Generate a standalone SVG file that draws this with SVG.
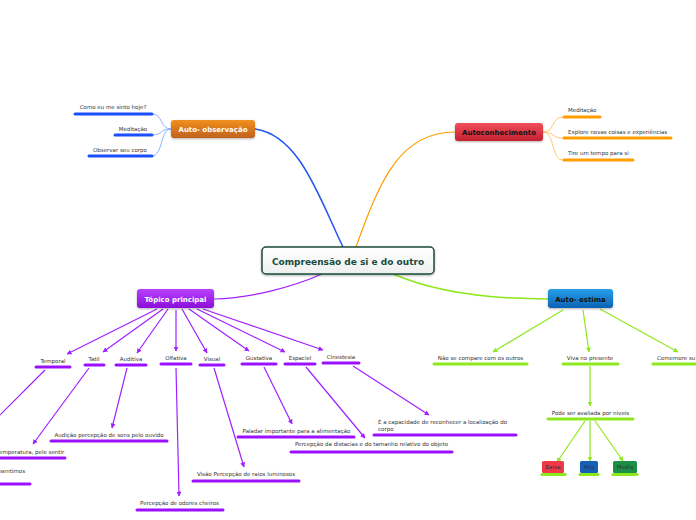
<svg xmlns="http://www.w3.org/2000/svg" width="696" height="520" viewBox="0 0 696 520">
<style>
.t{font-family:"DejaVu Sans",Verdana,sans-serif;font-size:5.5px;fill:#333}
.c{text-anchor:middle}
.h{font-family:"DejaVu Sans",Verdana,sans-serif;font-size:7px;font-weight:bold;text-anchor:middle}
.ub{stroke:#1a4fff;stroke-width:3;stroke-linecap:round}
.uo{stroke:#ff9d00;stroke-width:3;stroke-linecap:round}
.up{stroke:#9b10ff;stroke-width:3;stroke-linecap:round}
.ug{stroke:#8ee81e;stroke-width:3;stroke-linecap:round}
.ap{stroke:#a020ff;stroke-width:1.2;fill:none;marker-end:url(#mp)}
.ag{stroke:#8ee81e;stroke-width:1.2;fill:none;marker-end:url(#mg)}
.lb{stroke:#8fb0ff;stroke-width:1;fill:none}
.lo{stroke:#ffc870;stroke-width:1;fill:none}
</style>
<defs>
<marker id="mp" viewBox="0 0 10 10" refX="9" refY="5" markerWidth="5" markerHeight="5" markerUnits="userSpaceOnUse" orient="auto"><path d="M0,0 L10,5 L0,10 z" fill="#a020ff"/></marker>
<marker id="mg" viewBox="0 0 10 10" refX="9" refY="5" markerWidth="5" markerHeight="5" markerUnits="userSpaceOnUse" orient="auto"><path d="M0,0 L10,5 L0,10 z" fill="#8ee81e"/></marker>
<linearGradient id="gc" x1="0" y1="0" x2="0" y2="1"><stop offset="0" stop-color="#ffffff"/><stop offset="1" stop-color="#eef0ef"/></linearGradient>
<linearGradient id="go" x1="0" y1="0" x2="0" y2="1"><stop offset="0" stop-color="#f09020"/><stop offset="1" stop-color="#c0621a"/></linearGradient>
<linearGradient id="gr" x1="0" y1="0" x2="0" y2="1"><stop offset="0" stop-color="#f0505a"/><stop offset="1" stop-color="#c42030"/></linearGradient>
<linearGradient id="gp" x1="0" y1="0" x2="0" y2="1"><stop offset="0" stop-color="#b840ff"/><stop offset="1" stop-color="#8a10d8"/></linearGradient>
<linearGradient id="gb" x1="0" y1="0" x2="0" y2="1"><stop offset="0" stop-color="#2aa0ea"/><stop offset="1" stop-color="#0a62b4"/></linearGradient>
<filter id="sh" x="-20%" y="-30%" width="140%" height="170%"><feDropShadow dx="0" dy="1" stdDeviation="0.8" flood-color="#000" flood-opacity="0.3"/></filter>
</defs>
<rect width="696" height="520" fill="#ffffff"/>

<g id="connectors">
<path d="M255,129 C300,135 320,200 343,247" stroke="#2255ee" stroke-width="1.5" fill="none"/>
<path d="M356,247 C380,180 400,132 455,132" stroke="#ff9d00" stroke-width="1.2" fill="none"/>
<path d="M214,299 C250,298 290,288 322,274" stroke="#a020ff" stroke-width="1.2" fill="none"/>
<path d="M393,274 C430,290 480,299 548,299" stroke="#8ee81e" stroke-width="1.5" fill="none"/>
<path class="lb" d="M171,129 C160,129 163,114 152,114"/>
<path class="lb" d="M171,129 C160,129 163,135 152,135"/>
<path class="lb" d="M171,129 C160,129 163,156 152,156"/>
<path class="lo" d="M543,132 C555,132 551,117 563,117"/>
<path class="lo" d="M543,132 C555,132 551,138 563,138"/>
<path class="lo" d="M543,132 C555,132 551,160 563,160"/>
<line class="ap" x1="157" y1="309" x2="67" y2="354"/>
<line class="ap" x1="163" y1="309" x2="103" y2="352"/>
<line class="ap" x1="168" y1="309" x2="137" y2="353"/>
<line class="ap" x1="176" y1="310" x2="176" y2="351"/>
<line class="ap" x1="182" y1="309" x2="207" y2="353"/>
<line class="ap" x1="189" y1="309" x2="249" y2="351"/>
<line class="ap" x1="197" y1="309" x2="285" y2="352"/>
<line class="ap" x1="203" y1="309" x2="323" y2="350"/>
<line class="ap" x1="45" y1="370" x2="-20" y2="435"/>
<line class="ap" x1="89" y1="368" x2="33" y2="444"/>
<line class="ap" x1="127" y1="368" x2="112" y2="428"/>
<line class="ap" x1="176" y1="368" x2="179" y2="496"/>
<line class="ap" x1="214" y1="368" x2="244" y2="467"/>
<line class="ap" x1="264" y1="367" x2="292" y2="424"/>
<line class="ap" x1="306" y1="367" x2="365" y2="438"/>
<line class="ap" x1="353" y1="366" x2="429" y2="415"/>
<line class="ag" x1="563" y1="310" x2="493" y2="352"/>
<line class="ag" x1="583" y1="310" x2="589" y2="352"/>
<line class="ag" x1="600" y1="309" x2="678" y2="352"/>
<line class="ag" x1="590" y1="366" x2="590" y2="406"/>
<line class="ag" x1="585" y1="421" x2="557" y2="462"/>
<line class="ag" x1="590" y1="421" x2="590" y2="461"/>
<line class="ag" x1="595" y1="421" x2="623" y2="461"/>
</g>

<g id="central">
<rect x="262" y="247" width="172" height="27" rx="4" fill="url(#gc)" stroke="#1d4b3b" stroke-width="1.5" filter="url(#sh)"/>
<text x="348" y="265" font-family="'DejaVu Sans',Verdana,sans-serif" font-size="9" font-weight="bold" fill="#1a4a3a" text-anchor="middle">Compreensão de si e do outro</text>
</g>

<g id="auto-observacao">
<rect x="171" y="120" width="84" height="18" rx="3" fill="url(#go)" filter="url(#sh)"/>
<text class="h" x="213" y="131.5" fill="#ffffff">Auto- observação</text>
</g>
<g id="ao-como">
<text class="t c" x="113" y="109">Como eu me sinto hoje?</text>
<line class="ub" x1="75" y1="114" x2="152" y2="114"/>
</g>
<g id="ao-meditacao">
<text class="t c" x="133" y="131">Meditação</text>
<line class="ub" x1="115" y1="135" x2="152" y2="135"/>
</g>
<g id="ao-observar">
<text class="t c" x="120" y="151.5">Observar seu corpo</text>
<line class="ub" x1="89" y1="156" x2="152" y2="156"/>
</g>

<g id="autoconhecimento">
<rect x="455" y="123" width="88" height="18" rx="3" fill="url(#gr)" filter="url(#sh)"/>
<text class="h" x="499" y="134.5" fill="#111111">Autoconhecimento</text>
</g>
<g id="ac-meditacao">
<text class="t" x="568" y="112">Meditação</text>
<line class="uo" x1="564" y1="117" x2="600" y2="117"/>
</g>
<g id="ac-explore">
<text class="t" x="568" y="134">Explore novas coisas e experiências</text>
<line class="uo" x1="564" y1="138" x2="671" y2="138"/>
</g>
<g id="ac-tire">
<text class="t" x="568" y="155">Tire um tempo para si</text>
<line class="uo" x1="564" y1="160" x2="633" y2="160"/>
</g>

<g id="topico">
<rect x="137" y="289" width="77" height="19" rx="3" fill="url(#gp)" filter="url(#sh)"/>
<text class="h" x="175.5" y="301.5" fill="#ffffff">Tópico principal</text>
</g>
<g id="temporal"><text class="t c" x="53" y="363">Temporal</text><line class="up" x1="36" y1="367" x2="70" y2="367"/></g>
<g id="tatil"><text class="t c" x="94" y="361">Tatil</text><line class="up" x1="85" y1="365" x2="104" y2="365"/></g>
<g id="auditiva"><text class="t c" x="131" y="361">Auditiva</text><line class="up" x1="116" y1="365" x2="146" y2="365"/></g>
<g id="olfativa"><text class="t c" x="176" y="360">Olfativa</text><line class="up" x1="161" y1="364" x2="191" y2="364"/></g>
<g id="visual"><text class="t c" x="212" y="361">Visual</text><line class="up" x1="200" y1="365" x2="224" y2="365"/></g>
<g id="gustativa"><text class="t c" x="259" y="360">Gustativa</text><line class="up" x1="242" y1="364" x2="276" y2="364"/></g>
<g id="espaciel"><text class="t c" x="300" y="360">Espaciel</text><line class="up" x1="285" y1="364" x2="315" y2="364"/></g>
<g id="cinestesia"><text class="t c" x="341" y="359">Cinestesia</text><line class="up" x1="323" y1="363" x2="359" y2="363"/></g>

<g id="audicao"><text class="t c" x="109" y="437">Audição percepção de sons pelo ouvido</text><line class="up" x1="51" y1="441" x2="167" y2="441"/></g>
<g id="temperatura"><text class="t" x="-1" y="454">emperatura, pele sentir</text><line class="up" x1="-2" y1="458" x2="65" y2="458"/></g>
<g id="sentimos"><text class="t" x="0" y="473">sentimos</text><line class="up" x1="-2" y1="484" x2="30" y2="484"/></g>
<g id="odores"><text class="t c" x="179.5" y="505">Percepção de odores cheiros</text><line class="up" x1="137" y1="510" x2="223" y2="510"/></g>
<g id="visao"><text class="t c" x="246" y="476">Visão Percepção de raios luminosos</text><line class="up" x1="193" y1="481" x2="299" y2="481"/></g>
<g id="paladar"><text class="t c" x="296.5" y="433">Paladar importante para a alimentação</text><line class="up" x1="238" y1="437" x2="354" y2="437"/></g>
<g id="distancias"><text class="t c" x="371.5" y="446">Percepção da distacias e do tamanho relativo do objeto</text><line class="up" x1="291" y1="452" x2="452" y2="452"/></g>
<g id="capacidade"><text class="t" x="378" y="424">É a capacidade de reconhecer a localização do</text><text class="t" x="378" y="430.5">corpo</text><line class="up" x1="374" y1="435" x2="516" y2="435"/></g>

<g id="auto-estima">
<rect x="548" y="289" width="65" height="19" rx="3" fill="url(#gb)" filter="url(#sh)"/>
<text class="h" x="580.5" y="301.5" fill="#111111">Auto- estima</text>
</g>
<g id="nao-compare"><text class="t c" x="480.5" y="360">Não se compare com os outros</text><line class="ug" x1="434" y1="364" x2="527" y2="364"/></g>
<g id="viva"><text class="t c" x="590" y="360">Viva no presente</text><line class="ug" x1="563" y1="364" x2="618" y2="364"/></g>
<g id="comemore"><text class="t" x="657" y="360">Comemore su</text><line class="ug" x1="653" y1="364" x2="700" y2="364"/></g>
<g id="pode"><text class="t c" x="590.5" y="415">Pode ser avaliada por niveis</text><line class="ug" x1="548" y1="419" x2="633" y2="419"/></g>
<g id="baixa"><rect x="542" y="461" width="22" height="12" rx="1.5" fill="#f03848"/><text class="t c" x="553" y="469" fill="#222">Baixa</text><line class="ug" x1="542" y1="474.5" x2="565" y2="474.5"/></g>
<g id="alta"><rect x="580" y="461" width="18" height="12" rx="1.5" fill="#1560b4"/><text class="t c" x="589" y="469" fill="#222">Alta</text><line class="ug" x1="580" y1="474.5" x2="598" y2="474.5"/></g>
<g id="media"><rect x="613" y="461" width="24" height="12" rx="1.5" fill="#1a8f45"/><text class="t c" x="625" y="469" fill="#222">Media</text><line class="ug" x1="613" y1="474.5" x2="637" y2="474.5"/></g>
</svg>
